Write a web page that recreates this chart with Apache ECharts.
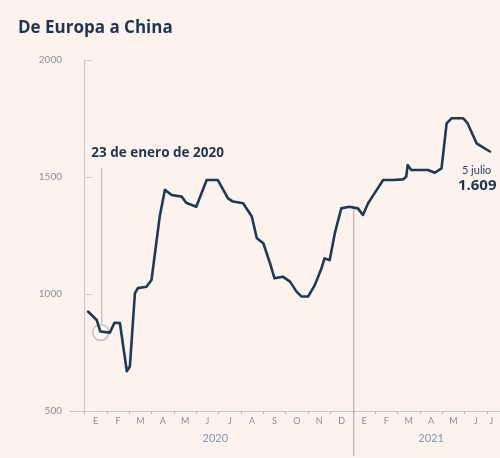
<!DOCTYPE html>
<html>
<head>
<meta charset="utf-8">
<script src="https://cdn.jsdelivr.net/npm/echarts@6/dist/echarts.min.js"></script>
<style>
  html, body { margin: 0; padding: 0; background: #fdf3ee; }
  #chart { width: 500px; height: 458px; }
</style>
</head>
<body>
<div id="chart"></div>
<script>
// Flete de contenedor Europa -> China (USD por FEU), enero 2020 - julio 2021
const fechas = [
  '2020-01-06','2020-01-18','2020-01-23','2020-02-05','2020-02-11','2020-02-18','2020-02-27',
  '2020-03-02','2020-03-09','2020-03-13','2020-03-25','2020-04-01','2020-04-12','2020-04-19',
  '2020-04-28','2020-05-12','2020-05-18','2020-06-01','2020-06-15','2020-06-30','2020-07-14',
  '2020-07-21','2020-08-04','2020-08-16','2020-08-23','2020-09-01','2020-09-10','2020-09-16',
  '2020-09-27','2020-10-07','2020-10-16','2020-10-23','2020-11-01','2020-11-10','2020-11-19',
  '2020-11-23','2020-11-30','2020-12-07','2020-12-16','2020-12-27','2021-01-08','2021-01-15',
  '2021-01-22','2021-01-31','2021-02-11','2021-02-23','2021-03-09','2021-03-13','2021-03-15',
  '2021-03-20','2021-04-01','2021-04-12','2021-04-21','2021-04-30','2021-05-07','2021-05-14',
  '2021-05-30','2021-06-05','2021-06-17','2021-06-24','2021-07-05'
];
const fletes = [
  925, 889, 840, 835, 877, 876, 670,
  690, 1003, 1025, 1031, 1060, 1331, 1445,
  1423, 1416, 1390, 1373, 1487, 1487, 1409,
  1395, 1388, 1331, 1238, 1217, 1131, 1067,
  1074, 1053, 1010, 989, 989, 1038, 1110,
  1152, 1145, 1259, 1366, 1373, 1366, 1338,
  1387, 1430, 1487, 1487, 1490, 1501, 1551,
  1530, 1530, 1530, 1518, 1537, 1729, 1751,
  1751, 1729, 1644, 1630, 1609
];
const meses = ['E','F','M','A','M','J','J','A','S','O','N','D','E','F','M','A','M','J','J'];
const anios = ['2020', '2021'];
const ticksY = [500, 1000, 1500, 2000];

const fechaHito = '2020-01-23';
const textoHito = '23 de enero de 2020';
const textoFinal = '5 julio';

// fecha -> meses transcurridos desde el 1 de enero de 2020
function mesFrac(f) {
  const [y, m, d] = f.split('-').map(Number);
  const dim = new Date(y, m, 0).getDate();
  return (y - 2020) * 12 + (m - 1) + (d - 1) / dim;
}
function miles(n) {
  return String(n).replace(/\B(?=(\d{3})+(?!\d))/g, '.');
}

const serie = fechas.map((f, i) => [mesFrac(f), fletes[i]]);
const xMin = -0.644, xMax = 18.58;
const posMeses = meses.map((_, i) => i === meses.length - 1 ? 18.2 : i + 0.5);
const limitesMes = meses.map((_, i) => i).concat([meses.length]).filter(v => v <= xMax);
const posAnios = [5.85, 15.5];

const chart = echarts.init(document.getElementById('chart'), null, { renderer: 'canvas' });
chart.setOption({
  animation: false,
  backgroundColor: '#fdf3ee',
  textStyle: { fontFamily: 'Lato, "Open Sans", sans-serif' },
  title: {
    text: 'De Europa a China',
    left: 13, top: 15,
    textStyle: { fontFamily: '"Open Sans"', fontWeight: 'bold', fontSize: 17, color: '#1f3651' }
  },
  grid: { left: 70, right: 0, top: 60, bottom: 47 },
  xAxis: [
    {
      type: 'value', min: xMin, max: xMax,
      axisLine: { show: true, lineStyle: { color: '#c9c6c4', width: 1 } },
      axisTick: { show: true, customValues: limitesMes, length: 3, lineStyle: { color: '#b9b6b4' } },
      axisLabel: {
        customValues: posMeses,
        formatter: v => meses[Math.floor(v)],
        color: '#8b8f94', fontSize: 9, margin: 6
      },
      splitLine: { show: false }
    },
    {
      type: 'value', min: xMin, max: xMax, position: 'bottom', offset: 18,
      axisLine: { show: false }, axisTick: { show: false },
      axisLabel: {
        customValues: posAnios,
        formatter: v => anios[v < 12 ? 0 : 1],
        color: '#7e9ab6', fontSize: 11, margin: 4
      },
      splitLine: { show: false }
    }
  ],
  yAxis: {
    type: 'value', min: 500, max: 2000, interval: 500,
    axisLine: { show: true, lineStyle: { color: '#c9c6c4', width: 1 } },
    axisTick: { show: true, inside: true, length: 8, lineStyle: { color: '#d2cfcd' } },
    axisLabel: {
      customValues: ticksY,
      formatter: v => String(v),
      color: '#8b8f94', fontSize: 10, margin: 8
    },
    splitLine: { show: false }
  },
  series: [{
    type: 'line',
    data: serie,
    symbol: 'none',
    z: 5,
    lineStyle: { color: '#1d3a57', width: 2.6, join: 'round', cap: 'round' }
  }]
});

// Anotaciones: hito de enero 2020, separación de años y último valor
const iHito = fechas.indexOf(fechaHito);
const pHito = chart.convertToPixel({ gridIndex: 0 }, serie[iHito]);
const iAnio = fechas.findIndex(f => f >= '2021-01-01') - 1;
const pAnio = chart.convertToPixel({ gridIndex: 0 }, [12, fletes[iAnio]]);
const iUlt = fletes.length - 1;
const pUlt = chart.convertToPixel({ gridIndex: 0 }, serie[iUlt]);

chart.setOption({
  graphic: [
    {
      type: 'line', z: 1,
      shape: { x1: pHito[0] + 1.5, y1: 168, x2: pHito[0] + 1.5, y2: pHito[1] - 8 },
      style: { stroke: '#b5b2b0', lineWidth: 1 }
    },
    {
      type: 'circle', z: 1,
      shape: { cx: pHito[0] + 0.5, cy: pHito[1] + 1, r: 8 },
      style: { stroke: '#c4c1bf', lineWidth: 1.5, fill: 'rgba(255,255,255,0.45)' }
    },
    {
      type: 'text', z: 10,
      left: pHito[0] - 9, top: 146,
      style: { text: textoHito, font: 'bold 13.5px "Open Sans"', fill: '#1f3651' }
    },
    {
      type: 'line', z: 1,
      shape: { x1: pAnio[0] + 1, y1: pAnio[1] + 2, x2: pAnio[0] + 1, y2: 456 },
      style: { stroke: '#a9a6a4', lineWidth: 1 }
    },
    {
      type: 'text', z: 10,
      left: pUlt[0] - 28, top: pUlt[1] + 13,
      style: { text: textoFinal, font: '11px Lato', fill: '#2c4763' }
    },
    {
      type: 'text', z: 10,
      left: pUlt[0] - 32, top: pUlt[1] + 27,
      style: { text: miles(fletes[iUlt]), font: 'bold 15px "Open Sans"', fill: '#1f3651' }
    }
  ]
});
</script>
</body>
</html>
